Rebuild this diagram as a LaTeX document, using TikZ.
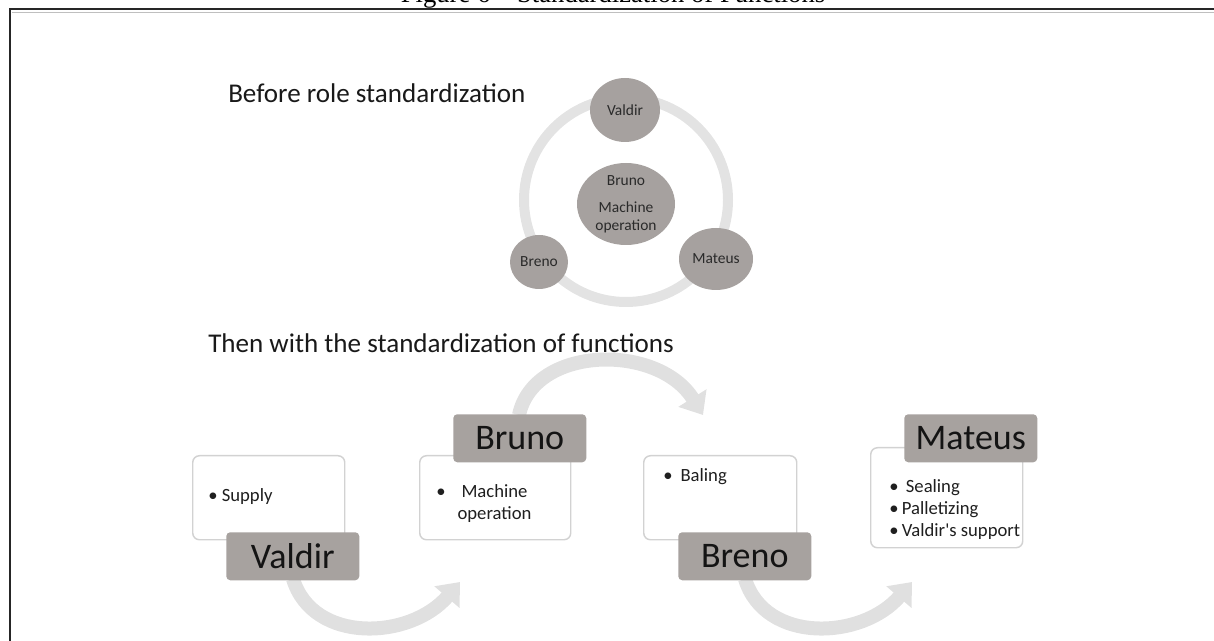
\documentclass[tikz,border=0pt]{standalone}
\usepackage{fontspec}
\setmainfont{Carlito}
\newfontfamily\titlefont{Liberation Serif}
\usetikzlibrary{arrows.meta,shapes.geometric}
\definecolor{labelgrey}{HTML}{A7A29F}
\definecolor{circgrey}{HTML}{A6A19F}
\definecolor{ringgrey}{HTML}{E3E3E3}
\definecolor{arrowgrey}{HTML}{E0E0E0}
\definecolor{boxline}{HTML}{D2D2D2}
\definecolor{txtdark}{HTML}{2A2A2A}
\begin{document}
\begin{tikzpicture}[x=0.75pt,y=-0.75pt,
  person/.style={ellipse, fill=circgrey, inner sep=0pt, text=txtdark,
    font=\fontsize{11.6}{13.5}\selectfont, align=center},
  rolebox/.style={anchor=north west, draw=boxline, line width=1.1pt, fill=white,
    rounded corners=5pt, inner sep=0pt, minimum height=63pt},
  namelabel/.style={anchor=north west, fill=labelgrey, rounded corners=3pt, inner sep=0pt,
    minimum width=99.75pt, minimum height=36pt, font=\fontsize{27}{30}\selectfont, text=black!92},
  heading/.style={anchor=base west, inner sep=0pt, font=\fontsize{20.3}{24}\selectfont, text=black!90},
  duty/.style={anchor=base west, inner sep=0pt, font=\fontsize{14}{16.5}\selectfont, text=black!88},
  flowarrow/.style={draw=arrowgrey, line width=10.5pt, -{Triangle[width=24pt,length=15pt]}},
  frameline/.style={draw=black!85, line width=1.5pt},
]
\useasboundingbox (0,0) rectangle (1214,641);
% caption and frame
\node[anchor=base, inner sep=0pt, font=\titlefont\fontsize{20}{24}\selectfont] (title) at (613,2.5) {Figure 6 – Standardization of Functions};
\coordinate (fbl) at (10,650);
\coordinate (ftl) at (10,9.5);
\coordinate (ftr) at (1225,9.5);
\draw[frameline] (fbl) -- (ftl) -- (ftr);
\coordinate (shl) at (12,12.5);
\coordinate (shr) at (1225,12.5);
\draw[black!25, line width=0.7pt] (shl) -- (shr);

% ---- before ----
\node[heading] (h1) at (228,103) {Before role standardization};
\node[circle, draw=ringgrey, line width=7.5pt, minimum size=153pt, inner sep=0pt] (ring) at (626,200) {};
\node[person, minimum width=52.5pt, minimum height=48pt] (cvaldir) at (625,110) {Valdir};
\node[person, minimum width=73.5pt, minimum height=61.5pt] (cbruno) at (626,204) {Bruno\\[6.75pt]Machine\\operation};
\node[person, minimum width=43.5pt, minimum height=40.5pt] (cbreno) at (539,262) {Breno};
\node[person, minimum width=55.5pt, minimum height=46.5pt] (cmateus) at (716,259) {Mateus};

% ---- after ----
\node[heading] (h2) at (208,353) {Then with the standardization of functions};

\coordinate (e1) at (460,582);
\coordinate (e2) at (703,415);
\coordinate (e3) at (912,582);
\coordinate (s1) at (293,579);
\coordinate (s2) at (519,415);
\coordinate (s3) at (745,579);
\draw[flowarrow] (s1) .. controls +(20,65) and +(-50,58) .. (e1);
\draw[flowarrow] (s2) .. controls +(15,-70) and +(-45,-72) .. (e2);
\draw[flowarrow] (s3) .. controls +(20,65) and +(-50,58) .. (e3);

\node[rolebox, minimum width=114pt] (bvaldir) at (192,455) {};
\node[rolebox, minimum width=113.25pt] (bbruno) at (419,455) {};
\node[rolebox, minimum width=114.75pt] (bbreno) at (643,455) {};
\node[rolebox, minimum width=114pt, minimum height=75pt] (bmateus) at (870,447) {};

\node[namelabel] (lvaldir) at (226,532) {Valdir};
\node[namelabel] (lbruno) at (453,414) {Bruno};
\node[namelabel] (lbreno) at (678,532) {Breno};
\node[namelabel] (lmateus) at (904,414) {Mateus};

\node[duty] (dsupply) at (208,502) {\textbullet\ Supply};
\node[duty] (dmachine) at (436,498) {\begin{tabular}[t]{@{}l@{\hspace{9pt}}c@{}}\textbullet & Machine\\ & operation\end{tabular}};
\node[duty] (dbaling) at (663,481) {\textbullet\hspace{6pt}Baling};
\node[duty] (dmateus) at (889,493) {\begin{tabular}[t]{@{}l@{\hspace{2.5pt}}l@{}}\textbullet & \hspace{3pt}Sealing\\ \textbullet & Palletizing\\ \textbullet & Valdir\textquotesingle s support\end{tabular}};
\end{tikzpicture}
\end{document}
